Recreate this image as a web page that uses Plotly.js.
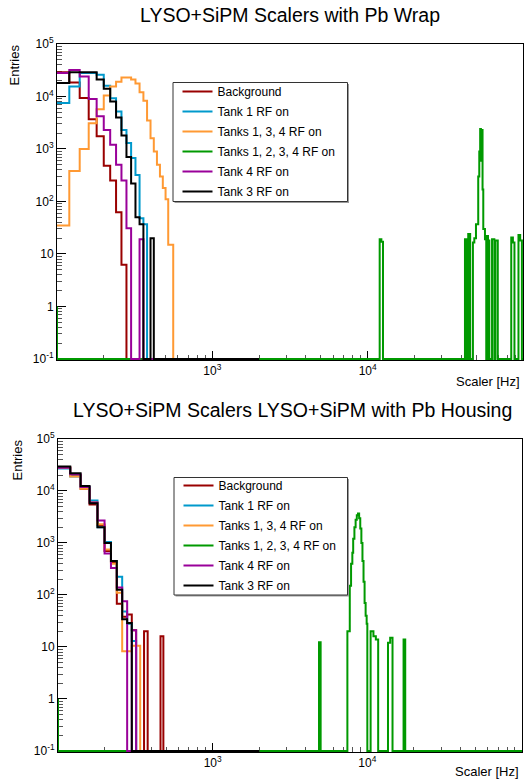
<!DOCTYPE html>
<html><head><meta charset="utf-8">
<script src="https://cdn.plot.ly/plotly-3.0.1.min.js"></script>
<style>html,body{margin:0;padding:0;background:#fff}#chart{width:530px;height:784px}</style>
</head><body><div id="chart"></div>
<script>
// ---------------- data ----------------
const seriesNames = ['Background', 'Tank 1 RF on', 'Tanks 1, 3, 4 RF on', 'Tanks 1, 2, 3, 4 RF on', 'Tank 4 RF on', 'Tank 3 RF on'];
const seriesColors = ['#990000', '#0099cc', '#ff9933', '#009900', '#990099', '#000000'];
const panelTitles = ['LYSO+SiPM Scalers with Pb Wrap', 'LYSO+SiPM Scalers LYSO+SiPM with Pb Housing'];
const xTitle = 'Scaler [Hz]';
const yTitle = 'Entries';

// bin boundaries (Hz) of the low-rate histograms (range ends at 2000 Hz)
const binEdges = [100, 120, 140, 160, 180, 200, 220, 240, 260, 280, 300, 320, 340, 360, 380, 400, 420, 440, 460, 480, 500, 520, 540, 560, 580];
const lowHistEnd = 2000;
const greenHistEnd = 100000;

// top panel: Pb wrap
const topBackground = [29000, 18500, 9400, 3700, 1750, 480, 250, 62, 6.2];
const topTank1      = [7500, 15500, 28000, 28000, 26000, 16000, 9300, 5200, 2300, 1300, 670, 320, 48, 37];
const topTanks134   = [35, 380, 1000, 3100, 5700, 10500, 15500, 19000, 23000, 23000, 21000, 17700, 12000, 8300, 3500, 1600, 900, 500, 300, 180, 110, 15, 15];
const topTank4      = [28000, 32000, 24000, 9000, 4200, 2300, 1200, 500, 250, 31, 0, 0, 19];
const topTank3      = [18000, 29000, 29000, 29000, 21000, 14000, 8000, 4000, 1800, 700, 220, 50, 37, 0, 0, 20];
const topGreenEdges = [11950, 12250, 12550, 42300, 43500, 44400, 45700, 47600, 48600, 49800, 51500, 52300, 53000, 53600, 54000, 54900, 55500, 56900, 58000, 58200, 59500, 59700, 60700, 63200, 65400, 66400, 68800, 84000, 86100, 88100, 93500, 95900, 98400];
const topGreenVals  = [19, 17, 0, 19, 0, 24, 0, 16.5, 20, 37, 300, 900, 2400, 600, 2300, 170, 30, 19, 0, 22, 0, 18, 0, 19, 0, 18, 0, 20.5, 16.5, 0, 23, 18];

// bottom panel: Pb housing
const botBackground = [28500, 20000, 11000, 5500, 2200, 700, 430, 68, 38, 42, 21, 0, 0, 20, 0, 0, 0, 0, 16];
const botTank1      = [27000, 19000, 12000, 6600, 2000, 1050, 450, 225, 48, 28, 13];
const botTanks134   = [28000, 19000, 11000, 6000, 2300, 750, 400, 110, 8.3, 8.3, 10.5, 10.5];
const botTank4      = [28000, 21000, 12000, 6000, 2700, 630, 330, 140, 76, 0, 21];
const botTank3      = [29500, 22000, 12500, 5800, 2000, 1000, 450, 126, 34, 29];
const botGreenEdges = [4870, 4990, 7430, 7700, 7850, 8000, 8100, 8250, 8400, 8550, 8700, 8850, 9000, 9150, 9300, 9450, 9600, 9750, 9900, 10000, 10500, 10950, 11350, 11750, 13600, 14050, 14550, 17150, 17580];
const botGreenVals  = [12.3, 0, 20, 150, 400, 650, 1200, 2000, 2800, 3400, 3700, 3000, 1900, 1000, 450, 180, 70, 40, 28, 0, 20, 16, 14, 0, 12, 15, 0, 14];

const yTickVals = [0.1, 1, 10, 100, 1000, 10000, 100000];
const yTickText = ['10<sup>-1</sup>', '1', '10', '10<sup>2</sup>', '10<sup>3</sup>', '10<sup>4</sup>', '10<sup>5</sup>'];
const xTickVals = [1000, 10000, 100000];
const xTickText = ['10<sup>3</sup>', '10<sup>4</sup>', '10<sup>5</sup>'];

// ---------------- building ----------------
const FLOOR = 0.1;
const FONT = 'Liberation Sans, Arial, Helvetica, sans-serif';

function lowTrace(vals, k, xa, ya, leg) {
  const x = binEdges.slice(0, vals.length + 1);
  const y = vals.map(v => v > 0 ? v : FLOOR).concat([FLOOR]);
  x.push(lowHistEnd); y.push(FLOOR);
  return {x, y, type: 'scatter', mode: 'lines', line: {shape: 'hv', color: seriesColors[k], width: 2},
          name: seriesNames[k], legendgroup: leg + k, xaxis: xa, yaxis: ya, legend: leg, hoverinfo: 'skip'};
}
function greenTrace(edges, vals, xa, ya, leg) {
  const x = [binEdges[0], binEdges[0]].concat(edges, [greenHistEnd]);
  const y = [1, FLOOR].concat(vals.map(v => v > 0 ? v : FLOOR), [FLOOR, FLOOR]);
  return {x, y, type: 'scatter', mode: 'lines', line: {shape: 'hv', color: seriesColors[3], width: 2},
          name: seriesNames[3], legendgroup: leg + 3, xaxis: xa, yaxis: ya, legend: leg, hoverinfo: 'skip'};
}

const traces = [
  lowTrace(topBackground, 0, 'x', 'y', 'legend'),
  lowTrace(topTank1, 1, 'x', 'y', 'legend'),
  lowTrace(topTanks134, 2, 'x', 'y', 'legend'),
  greenTrace(topGreenEdges, topGreenVals, 'x', 'y', 'legend'),
  lowTrace(topTank4, 4, 'x', 'y', 'legend'),
  lowTrace(topTank3, 5, 'x', 'y', 'legend'),
  lowTrace(botBackground, 0, 'x2', 'y2', 'legend2'),
  lowTrace(botTank1, 1, 'x2', 'y2', 'legend2'),
  lowTrace(botTanks134, 2, 'x2', 'y2', 'legend2'),
  greenTrace(botGreenEdges, botGreenVals, 'x2', 'y2', 'legend2'),
  lowTrace(botTank4, 4, 'x2', 'y2', 'legend2'),
  lowTrace(botTank3, 5, 'x2', 'y2', 'legend2')
];

// minor tick positions (2..9 per decade)
function minorTicks(lo, hi) {
  const out = [];
  for (let d = lo; d < hi; d++) for (let m = 2; m <= 9; m++) out.push(m * Math.pow(10, d));
  return out;
}

const W = 530, H = 784;
function px2x(px) { return px / W; }
function py2y(py) { return 1 - py / H; }

function xAxis(anchor, dom) {
  return {type: 'log', range: [2, 5], domain: dom, anchor: anchor,
    tickmode: 'array', tickvals: xTickVals, ticktext: xTickText,
    ticks: 'inside', ticklen: 9, tickwidth: 1, tickcolor: '#000',
    minor: {tickmode: 'array', tickvals: minorTicks(2, 5), ticks: 'inside', ticklen: 5, tickwidth: 1, tickcolor: '#555'},
    showline: true, mirror: true, linecolor: '#000', linewidth: 1, showgrid: false, zeroline: false,
    layer: 'below traces', tickfont: {family: FONT, size: 12, color: '#000'}, fixedrange: true};
}
function yAxis(anchor, dom) {
  return {type: 'log', range: [-1.02, 5], domain: dom, anchor: anchor,
    tickmode: 'array', tickvals: yTickVals, ticktext: yTickText,
    ticks: 'inside', ticklen: 9, tickwidth: 1, tickcolor: '#000',
    minor: {tickmode: 'array', tickvals: minorTicks(-1, 5), ticks: 'inside', ticklen: 5, tickwidth: 1, tickcolor: '#555'},
    showline: true, mirror: true, linecolor: '#000', linewidth: 1, showgrid: false, zeroline: false,
    layer: 'below traces', tickfont: {family: FONT, size: 12, color: '#000'}, fixedrange: true};
}

const legendBase = {xanchor: 'left', yanchor: 'top', bgcolor: 'rgba(0,0,0,0)', borderwidth: 0,
  font: {family: FONT, size: 12, color: '#000'}, tracegroupgap: 1, itemwidth: 30, traceorder: 'grouped'};

function legendBox(x0, y0, x1, y1) {
  return [
    {type: 'rect', xref: 'paper', yref: 'paper', x0: px2x(x0 + 1.5), x1: px2x(x1 + 1.5), y0: py2y(y0 + 1.5), y1: py2y(y1 + 1.5),
     fillcolor: '#9a9a9a', line: {width: 0}, layer: 'above'},
    {type: 'rect', xref: 'paper', yref: 'paper', x0: px2x(x0), x1: px2x(x1), y0: py2y(y0), y1: py2y(y1),
     fillcolor: '#fff', line: {color: '#333', width: 1}, layer: 'above'}
  ];
}

const layout = {
  width: W, height: H, margin: {l: 0, r: 0, t: 0, b: 0},
  paper_bgcolor: '#fff', plot_bgcolor: '#fff', showlegend: true,
  xaxis: xAxis('y', [px2x(57), px2x(523)]),
  yaxis: yAxis('x', [py2y(360), py2y(44)]),
  xaxis2: xAxis('y2', [px2x(58), px2x(522)]),
  yaxis2: yAxis('x2', [py2y(752), py2y(439)]),
  legend: Object.assign({}, legendBase, {x: px2x(177.5), y: py2y(77)}),
  legend2: Object.assign({}, legendBase, {x: px2x(178.5), y: py2y(471)}),
  shapes: legendBox(173, 82.5, 347.5, 201.5).concat(legendBox(174, 477.5, 347.5, 595)),
  annotations: [
    {text: panelTitles[0], xref: 'paper', yref: 'paper', x: px2x(290), y: py2y(15), xanchor: 'center', yanchor: 'middle', showarrow: false, font: {family: FONT, size: 19.5, color: '#000'}},
    {text: panelTitles[1], xref: 'paper', yref: 'paper', x: px2x(292), y: py2y(410), xanchor: 'center', yanchor: 'middle', showarrow: false, font: {family: FONT, size: 19.5, color: '#000'}},
    {text: yTitle, xref: 'paper', yref: 'paper', x: px2x(14), y: py2y(43), xanchor: 'center', yanchor: 'top', textangle: -90, showarrow: false, font: {family: FONT, size: 13, color: '#000'}},
    {text: yTitle, xref: 'paper', yref: 'paper', x: px2x(17), y: py2y(438), xanchor: 'center', yanchor: 'top', textangle: -90, showarrow: false, font: {family: FONT, size: 13, color: '#000'}},
    {text: xTitle, xref: 'paper', yref: 'paper', x: px2x(522), y: py2y(381), xanchor: 'right', yanchor: 'middle', showarrow: false, font: {family: FONT, size: 13, color: '#000'}},
    {text: xTitle, xref: 'paper', yref: 'paper', x: px2x(521), y: py2y(771), xanchor: 'right', yanchor: 'middle', showarrow: false, font: {family: FONT, size: 13, color: '#000'}}
  ]
};

Plotly.newPlot('chart', traces, layout, {staticPlot: true, displayModeBar: false});
</script>
</body></html>
